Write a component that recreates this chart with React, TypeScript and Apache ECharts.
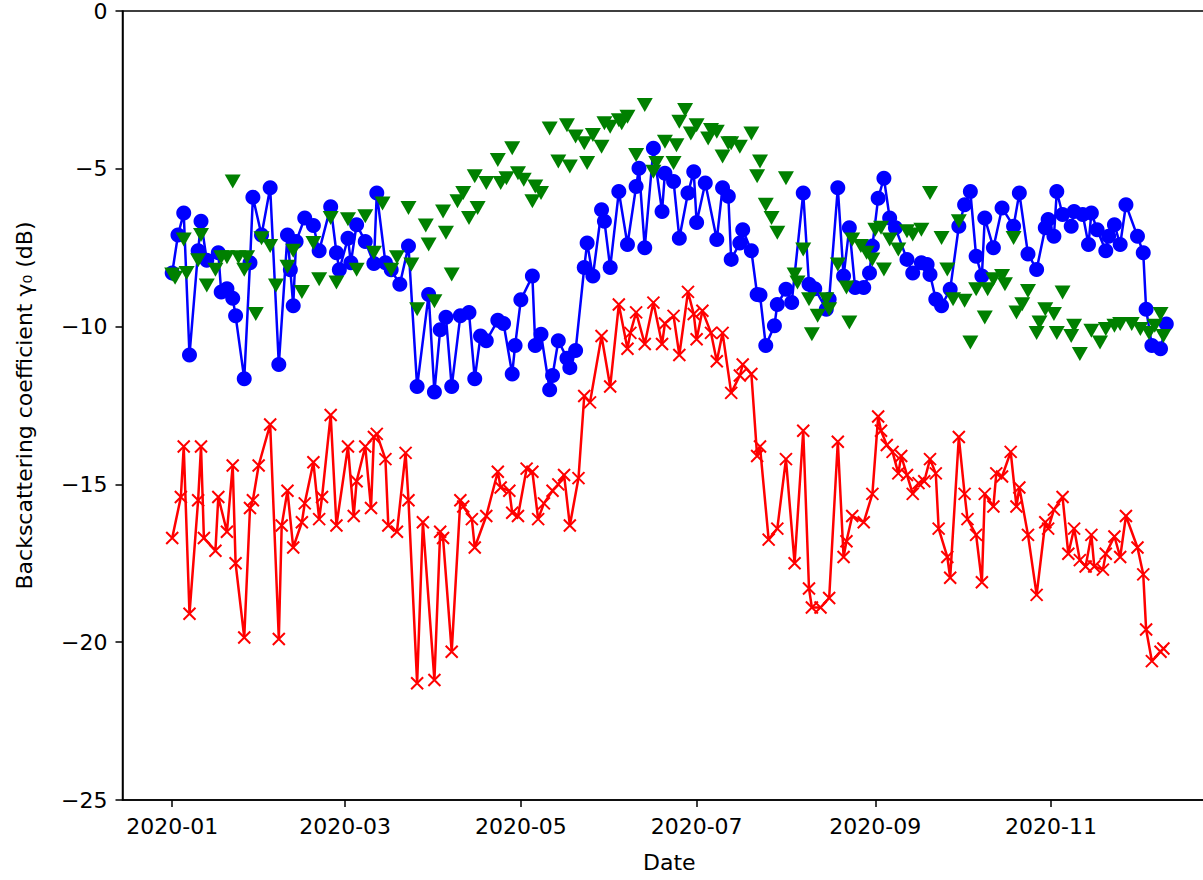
import React, { useEffect, useRef } from "react";
import * as echarts from "echarts";

// Acquisition day offsets from 2020-01-01, and backscatter values (dB)
const blueDays = [0, 2, 4, 6, 9, 10, 12, 16, 17, 19, 21, 22, 25, 27, 28, 31, 34, 37, 40, 41, 42, 43, 46, 49, 51, 55, 57, 58, 61, 62, 64, 67, 70, 71, 74, 76, 79, 82, 85, 89, 91, 93, 95, 97, 100, 103, 105, 107, 109, 113, 115, 118, 119, 121, 125, 126, 128, 131, 132, 134, 137, 138, 140, 143, 144, 146, 149, 150, 152, 155, 158, 161, 162, 164, 167, 170, 171, 174, 176, 179, 181, 182, 185, 189, 191, 193, 194, 197, 198, 201, 203, 204, 206, 209, 210, 213, 215, 219, 221, 223, 227, 228, 231, 233, 235, 237, 240, 242, 243, 245, 247, 249, 251, 255, 257, 260, 262, 263, 265, 267, 270, 273, 275, 277, 279, 281, 282, 285, 288, 292, 294, 297, 300, 303, 304, 306, 307, 309, 312, 313, 316, 318, 319, 321, 324, 325, 327, 329, 331, 335, 337, 338, 340, 343, 345];
const blueValues = [-8.3, -7.1, -6.4, -10.9, -7.6, -6.66, -7.9, -7.66, -8.9, -8.8, -9.1, -9.66, -11.65, -7.98, -5.9, -7.1, -5.6, -11.2, -7.1, -8.2, -9.34, -7.3, -6.56, -6.8, -7.6, -6.2, -7.66, -8.2, -7.2, -7.98, -6.77, -7.3, -8.0, -5.77, -7.98, -8.2, -8.66, -7.45, -11.9, -8.98, -12.07, -10.1, -9.7, -11.9, -9.66, -9.55, -11.65, -10.3, -10.45, -9.8, -9.9, -11.5, -10.6, -9.15, -8.4, -10.6, -10.24, -12.0, -11.55, -10.45, -11.0, -11.3, -10.76, -8.13, -7.35, -8.4, -6.3, -6.66, -8.13, -5.72, -7.4, -5.56, -4.98, -7.5, -4.35, -6.35, -5.14, -5.4, -7.2, -5.77, -5.09, -6.7, -5.45, -7.24, -5.6, -5.87, -7.87, -7.35, -6.93, -7.6, -8.98, -9.0, -10.6, -9.97, -9.3, -8.82, -9.24, -5.77, -8.66, -8.8, -9.45, -9.13, -5.6, -8.4, -6.87, -8.76, -8.76, -8.3, -7.45, -5.93, -5.3, -6.56, -6.87, -7.87, -8.3, -7.98, -8.03, -8.35, -9.13, -9.34, -8.82, -6.82, -6.14, -5.72, -7.77, -8.4, -6.56, -7.5, -6.24, -6.82, -5.77, -7.7, -8.19, -6.87, -6.61, -7.14, -5.72, -6.45, -6.82, -6.35, -6.45, -7.4, -6.4, -6.93, -7.6, -7.14, -6.77, -7.4, -6.14, -7.14, -7.66, -9.45, -10.6, -10.7, -9.92];

const greenDays = [0, 1, 4, 5, 9, 10, 12, 15, 17, 19, 21, 23, 25, 26, 29, 31, 34, 36, 40, 42, 45, 49, 51, 55, 57, 61, 64, 67, 70, 73, 76, 78, 82, 83, 85, 88, 89, 91, 94, 95, 97, 99, 101, 103, 105, 106, 109, 113, 114, 116, 118, 120, 122, 125, 126, 128, 131, 134, 137, 138, 140, 143, 144, 146, 149, 150, 152, 155, 156, 158, 161, 164, 167, 168, 171, 174, 175, 176, 178, 180, 182, 186, 187, 189, 191, 193, 194, 197, 201, 203, 204, 206, 208, 210, 213, 216, 217, 219, 221, 222, 224, 227, 228, 231, 234, 235, 236, 239, 241, 243, 244, 246, 247, 249, 252, 255, 257, 260, 263, 267, 269, 271, 273, 275, 277, 279, 282, 283, 285, 288, 289, 292, 293, 295, 297, 300, 301, 303, 306, 307, 309, 312, 313, 315, 319, 322, 324, 327, 329, 333, 336, 339, 341, 343, 344];
const greenValues = [-8.35, -8.45, -7.24, -8.3, -7.9, -7.1, -8.7, -8.2, -7.8, -7.8, -5.4, -7.8, -8.2, -7.8, -9.6, -7.2, -7.45, -8.7, -8.1, -7.6, -8.9, -7.35, -8.5, -6.56, -8.6, -6.6, -8.2, -6.5, -7.66, -6.1, -8.2, -7.8, -6.24, -8.03, -9.45, -6.8, -7.4, -9.2, -6.35, -7.03, -8.35, -6.03, -5.77, -6.56, -5.24, -6.24, -5.45, -4.72, -5.45, -5.3, -4.35, -5.14, -5.35, -6.03, -5.56, -5.77, -3.72, -4.77, -3.62, -4.93, -3.98, -4.19, -4.82, -3.93, -4.3, -3.56, -3.67, -3.46, -3.56, -3.35, -4.56, -2.98, -5.09, -4.82, -4.14, -4.82, -4.25, -3.51, -3.14, -3.88, -3.62, -4.04, -3.77, -3.83, -4.61, -4.19, -4.19, -4.3, -3.88, -5.24, -4.77, -6.14, -6.56, -7.03, -5.3, -8.35, -8.6, -7.56, -9.13, -10.24, -9.66, -9.13, -9.45, -8.03, -8.76, -9.87, -7.24, -7.45, -7.66, -7.87, -6.93, -6.87, -8.19, -7.24, -7.56, -6.98, -7.08, -6.93, -5.77, -7.19, -8.19, -9.13, -6.66, -9.18, -10.5, -8.82, -9.71, -8.82, -8.5, -8.4, -8.66, -7.19, -9.55, -9.29, -8.87, -10.2, -9.87, -9.45, -9.6, -10.2, -8.92, -10.3, -9.97, -10.87, -10.13, -10.5, -10.08, -9.97, -9.92, -9.92, -10.08, -10.2, -9.97, -9.6, -10.3];

const redDays = [0, 3, 4, 6, 9, 10, 11, 15, 16, 19, 21, 22, 25, 27, 28, 30, 34, 37, 38, 40, 42, 45, 46, 49, 51, 52, 55, 57, 61, 63, 64, 67, 69, 70, 71, 74, 75, 78, 81, 82, 85, 87, 91, 93, 94, 97, 100, 101, 104, 105, 109, 113, 114, 117, 118, 120, 123, 125, 127, 129, 132, 134, 136, 138, 141, 143, 145, 149, 152, 155, 158, 159, 161, 164, 167, 170, 171, 174, 176, 179, 181, 182, 184, 187, 189, 191, 194, 197, 198, 201, 203, 204, 207, 210, 213, 216, 219, 221, 222, 225, 228, 231, 233, 234, 236, 240, 243, 245, 246, 248, 250, 252, 253, 255, 257, 259, 261, 263, 265, 266, 269, 270, 273, 275, 276, 279, 281, 282, 285, 286, 288, 291, 293, 294, 297, 300, 303, 304, 306, 309, 311, 313, 315, 317, 319, 320, 323, 324, 327, 329, 331, 335, 337, 338, 340, 343, 344];
const redValues = [-16.7, -15.4, -13.8, -19.1, -15.5, -13.8, -16.7, -17.1, -15.4, -16.5, -14.4, -17.5, -19.85, -15.75, -15.5, -14.4, -13.1, -19.9, -16.3, -15.2, -17.0, -16.2, -15.6, -14.3, -16.1, -15.4, -12.8, -16.3, -13.8, -16.0, -14.9, -13.8, -15.75, -13.5, -13.4, -14.2, -16.3, -16.5, -14.0, -15.5, -21.3, -16.2, -21.2, -16.5, -16.7, -20.3, -15.5, -15.7, -16.1, -17.0, -16.0, -14.6, -15.1, -15.2, -15.9, -16.0, -14.5, -14.6, -16.1, -15.6, -15.2, -15.0, -14.7, -16.3, -14.8, -12.2, -12.4, -10.3, -11.9, -9.3, -10.7, -10.2, -9.55, -10.55, -9.24, -10.55, -9.9, -9.66, -10.9, -8.9, -9.6, -10.4, -9.5, -10.2, -11.1, -10.2, -12.1, -11.55, -11.2, -11.5, -14.1, -13.8, -16.75, -16.4, -14.2, -17.5, -13.3, -18.3, -18.9, -18.9, -18.6, -13.65, -17.3, -16.8, -16.0, -16.2, -15.3, -12.85, -13.3, -13.75, -13.97, -14.65, -14.1, -14.7, -15.3, -14.96, -14.9, -14.2, -14.65, -16.4, -17.3, -17.96, -13.5, -15.3, -16.1, -16.6, -18.1, -15.3, -15.7, -14.65, -14.75, -13.97, -15.7, -15.1, -16.6, -18.5, -16.2, -16.4, -15.8, -15.4, -17.2, -16.4, -17.4, -17.6, -16.6, -17.6, -17.7, -17.2, -16.65, -17.3, -16.0, -17.0, -17.85, -19.6, -20.6, -20.3, -20.2];

const xTickDates = ["2020-01-01", "2020-03-01", "2020-05-01", "2020-07-01", "2020-09-01", "2020-11-01"];
const yMin = -25;
const yMax = 0;
const yStep = 5;

const DAY = 86400000;
const BASE = new Date(2020, 0, 1).getTime();
const dayToTime = (d: number) => BASE + d * DAY;
const parseDate = (s: string) => {
  const [y, m, d] = s.split("-").map(Number);
  return new Date(y, m - 1, d).getTime();
};

const FONT = "DejaVu Sans";
const FS = 22;

export default function App() {
  const ref = useRef<HTMLDivElement>(null);
  useEffect(() => {
    if (!ref.current) return;
    const chart = echarts.init(ref.current, null, { renderer: "svg" });
    const ticks = xTickDates.map(parseDate);
    const pair = (days: number[], vals: number[]) => days.map((d, i) => [dayToTime(d), vals[i]]);
    const firstDay = Math.min(...redDays, ...blueDays, ...greenDays);
    const lastDay = Math.max(...redDays, ...blueDays, ...greenDays);
    const pad = (lastDay - firstDay) * 0.05;
    chart.setOption({
      animation: false,
      backgroundColor: "#ffffff",
      grid: {
        left: 122.5,
        right: 0,
        top: 7,
        bottom: 80,
        show: true,
        borderColor: "#000",
        borderWidth: 1.5,
        backgroundColor: "transparent",
      },
      xAxis: {
        type: "value",
        min: dayToTime(firstDay - pad),
        max: dayToTime(lastDay + pad),
        axisLine: { show: true, onZero: false, lineStyle: { color: "#000", width: 1.5 } },
        axisTick: { show: true, customValues: ticks, length: 7, lineStyle: { color: "#000", width: 1.5 } },
        axisLabel: {
          customValues: ticks,
          color: "#000",
          fontSize: FS,
          fontFamily: FONT,
          margin: 15,
          formatter: (v: number) => {
            const dt = new Date(v);
            return dt.getFullYear() + "-" + String(dt.getMonth() + 1).padStart(2, "0");
          },
        },
        splitLine: { show: false },
        name: "Date",
        nameLocation: "middle",
        nameGap: 51,
        nameTextStyle: { color: "#000", fontSize: FS, fontFamily: FONT },
      },
      yAxis: {
        type: "value",
        min: yMin,
        max: yMax,
        interval: yStep,
        axisLine: { show: true, onZero: false, lineStyle: { color: "#000", width: 1.5 } },
        axisTick: { show: true, length: 7, lineStyle: { color: "#000", width: 1.5 } },
        axisLabel: {
          color: "#000",
          fontSize: FS,
          fontFamily: FONT,
          margin: 15,
          formatter: (v: number) => (v < 0 ? "\u2212" + Math.abs(v) : String(v)),
        },
        splitLine: { show: false },
        name: "Backscattering coefficient \u03b3\u2080 (dB)",
        nameLocation: "middle",
        nameGap: 87,
        nameTextStyle: { color: "#000", fontSize: FS, fontFamily: FONT },
      },
      series: [
        {
          type: "line",
          data: pair(blueDays, blueValues),
          symbol: "circle",
          symbolSize: 15,
          showSymbol: true,
          showAllSymbol: true,
          lineStyle: { color: "#0000ff", width: 2.5 },
          itemStyle: { color: "#0000ff" },
          z: 2,
        },
        {
          type: "scatter",
          data: pair(greenDays, greenValues),
          symbol: "triangle",
          symbolRotate: 180,
          symbolSize: [16, 14],
          itemStyle: { color: "#008000", opacity: 1 },
          z: 3,
        },
        {
          type: "line",
          data: pair(redDays, redValues),
          symbol: "path://M0,0L10,10M10,0L0,10",
          symbolSize: 12,
          showSymbol: true,
          showAllSymbol: true,
          lineStyle: { color: "#ff0000", width: 2.5 },
          itemStyle: { color: "#ff0000", borderColor: "#ff0000", borderWidth: 2 },
          z: 4,
        },
      ],
    });
    return () => chart.dispose();
  }, []);
  return (
    <div
      style={{ position: "absolute", left: 0, top: 0, width: 1203, height: 880, overflow: "hidden", background: "#fff" }}
    >
      <div ref={ref} style={{ width: 1216, height: 880 }} />
    </div>
  );
}
